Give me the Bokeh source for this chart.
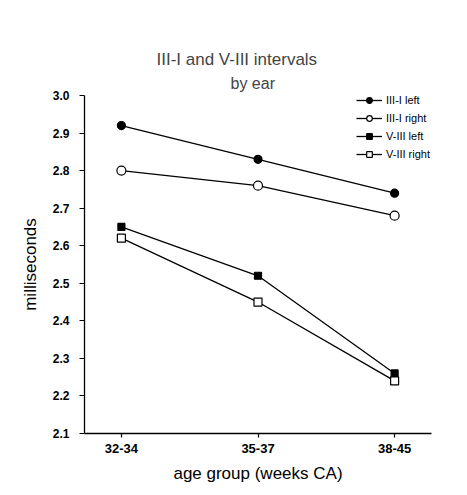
from bokeh.plotting import figure
from bokeh.models import Range1d, FixedTicker, Legend, LegendItem, Title
from bokeh.embed import file_html
from bokeh.resources import INLINE

age_groups = ["32-34", "35-37", "38-45"]
iii_i_left = [2.92, 2.83, 2.74]
iii_i_right = [2.80, 2.76, 2.68]
v_iii_left = [2.65, 2.52, 2.26]
v_iii_right = [2.62, 2.45, 2.24]
y_ticks = [2.1, 2.2, 2.3, 2.4, 2.5, 2.6, 2.7, 2.8, 2.9, 3.0]

FONT = "Liberation Sans"
xs = list(range(len(age_groups)))

p = figure(width=467, height=495, output_backend="svg", toolbar_location=None,
           x_range=Range1d(-0.27, 2.27), y_range=Range1d(2.1, 3.0),
           min_border_left=84, min_border_right=36, min_border_bottom=62, min_border_top=95)
p.outline_line_color = None
p.grid.grid_line_color = None
p.background_fill_color = "white"
p.border_fill_color = "white"

p.title.text = "III-I and V-III intervals"
p.title.align = "left"
p.title.offset = 72
p.title.text_font = FONT
p.title.text_font_size = "17px"
p.title.text_font_style = "normal"
p.title.standoff = 0
p.add_layout(Title(text="by ear", align="left", offset=146, text_font=FONT, standoff=8,
                   text_font_size="16px", text_font_style="normal"), "above")

series = [
    ("III-I left", iii_i_left, "circle", "black", 8),
    ("III-I right", iii_i_right, "circle", "white", 9),
    ("V-III left", v_iii_left, "square", "black", 7),
    ("V-III right", v_iii_right, "square", "white", 8),
]
items = []
for name, vals, marker, fill, size in series:
    ln = p.line(xs, vals, line_color="black", line_width=1.3)
    sc = p.scatter(xs, vals, marker=marker, size=size, fill_color=fill,
                   line_color="black", line_width=1.2)
    items.append(LegendItem(label=name, renderers=[ln, sc]))

legend = Legend(items=items, location=(272, 270), orientation="vertical",
                label_text_font=FONT, label_text_font_size="11px", label_text_color="black",
                glyph_width=26, glyph_height=14, label_height=18, label_standoff=4,
                spacing=0, padding=0, margin=0,
                border_line_color=None, background_fill_alpha=0)
p.add_layout(legend, "center")

p.xaxis.ticker = FixedTicker(ticks=xs)
p.xaxis.major_label_overrides = {i: g for i, g in enumerate(age_groups)}
p.yaxis.ticker = FixedTicker(ticks=y_ticks)
p.yaxis.major_label_overrides = {t: f"{t:.1f}" for t in y_ticks}

for ax in (p.xaxis, p.yaxis):
    ax.axis_line_color = "black"
    ax.axis_line_width = 1.3
    ax.major_tick_line_color = "black"
    ax.major_tick_line_width = 1.2
    ax.minor_tick_line_color = None
    ax.major_tick_in = 0
    ax.major_label_text_font = FONT
    ax.major_label_text_font_style = "bold"
    ax.major_label_text_color = "black"
    ax.axis_label_text_font = FONT
    ax.axis_label_text_font_size = "17px"
    ax.axis_label_text_font_style = "normal"
    ax.axis_label_text_color = "black"

p.xaxis.major_label_text_font_size = "13px"
p.yaxis.major_label_text_font_size = "12px"
p.xaxis.major_tick_out = 4
p.xaxis.major_label_standoff = 6
p.xaxis.axis_label = "age group (weeks CA)"
p.xaxis.axis_label_standoff = 8
p.yaxis.major_tick_out = 5
p.yaxis.major_label_standoff = 10
p.yaxis.axis_label = "milliseconds"
p.yaxis.axis_label_standoff = 10

open("out.html", "w").write(file_html(p, INLINE))
